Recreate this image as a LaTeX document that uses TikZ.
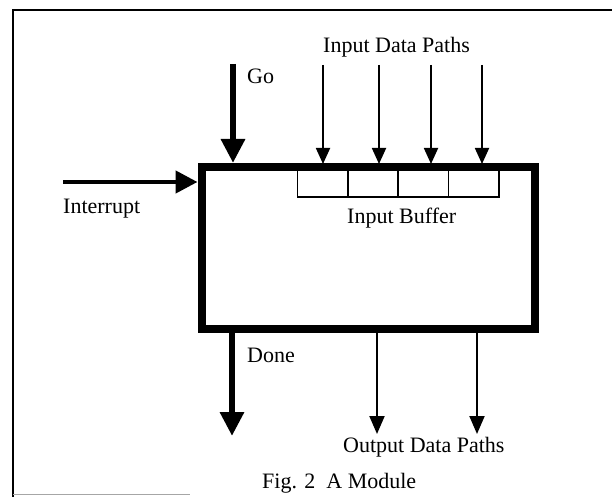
\documentclass[tikz,border=0pt]{standalone}
\usepackage{fontspec}
\setmainfont{Liberation Serif}
\usetikzlibrary{arrows.meta}
\tikzset{
  lbl/.style={inner sep=0pt, anchor=base west, font=\fontsize{22}{26}\selectfont},
  modbox/.style={draw, line width=8pt, minimum width=333.5pt, minimum height=162pt, inner sep=0pt},
  cell/.style={draw, line width=1.5pt, minimum width=50.5pt, minimum height=28pt, inner sep=0pt},
  bigarrow/.style={line width=6pt, -{Triangle[width=23pt,length=24pt]}},
  midarrow/.style={line width=4.5pt, -{Triangle[width=22pt,length=22pt]}},
  thinarrow/.style={line width=1.8pt, -{Triangle[width=14pt,length=16pt]}},
  outarrow/.style={line width=2pt, -{Triangle[width=15pt,length=18pt]}},
  frameline/.style={line width=2pt}
}
\begin{document}
\begin{tikzpicture}[x=1pt,y=-1pt]
\useasboundingbox (0,0) rectangle (612,497);
% frame
\draw[frameline] (612,10) -- (13,10) -- (13,497);
\draw[line width=1pt, black!35] (13,494) -- (190,494);
% module
\node[modbox] (mod) at (368.25,248) {};
% buffer cells
\node[cell] (b1) at (322.5,183) {};
\node[cell] (b2) at (373,183) {};
\node[cell] (b3) at (423,183) {};
\node[cell] (b4) at (473.5,183) {};
% go
\coordinate (gos) at (233,64);
\draw[bigarrow] (gos) -- (gos |- mod.north);
% inputs
\coordinate (i1) at (323,65);
\coordinate (i2) at (379,65);
\coordinate (i3) at (431,65);
\coordinate (i4) at (482,65);
\foreach \c in {i1,i2,i3,i4} \draw[thinarrow] (\c) -- ([yshift=-1pt]\c |- mod.north);
% interrupt
\coordinate (ints) at (63,182);
\draw[midarrow] (ints) -- (ints -| mod.west);
% done
\coordinate (doe) at (232,436);
\draw[bigarrow] (doe |- mod.south) -- (doe);
% outputs
\coordinate (o1) at (377,434);
\coordinate (o2) at (477,434);
\draw[outarrow] (o1 |- mod.south) -- (o1);
\draw[outarrow] (o2 |- mod.south) -- (o2);
% labels
\node[lbl] (tin) at (323,53) {Input Data Paths};
\node[lbl] (tgo) at (247,84) {Go};
\node[lbl] (tint) at (63,213) {Interrupt};
\node[lbl] (tbuf) at (347,223) {Input Buffer};
\node[lbl] (tdone) at (247,362) {Done};
\node[lbl] (tout) at (343,452) {Output Data Paths};
\node[lbl] (tfig) at (262,488) {Fig. 2\enspace A Module};
\end{tikzpicture}
\end{document}
